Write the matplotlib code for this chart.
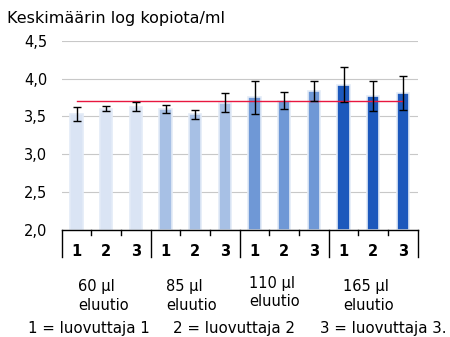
import matplotlib
matplotlib.use("Agg")
import matplotlib.pyplot as plt
import numpy as np

plt.rcParams['font.family'] = ['DejaVu Sans']

donors = ["1", "2", "3"] * 4
groups = ["60 µl\neluutio", "85 µl\neluutio", "110 µl\neluutio", "165 µl\neluutio"]
means = [3.53, 3.60, 3.63, 3.60, 3.53, 3.68, 3.75, 3.71, 3.835, 3.92, 3.77, 3.81]
errors = [0.093, 0.035, 0.065, 0.057, 0.06, 0.125, 0.22, 0.115, 0.128, 0.23, 0.2, 0.22]
reference_value = 3.70
group_colors = ["#dae4f4", "#a7c0e5", "#6f98d6", "#1c58bc"]
yticks = [2.0, 2.5, 3.0, 3.5, 4.0, 4.5]
ylabel = "Keskimäärin log kopiota/ml"
footer_parts = ["1 = luovuttaja 1", "2 = luovuttaja 2", "3 = luovuttaja 3."]

fig = plt.figure(figsize=(4.5, 3.37), dpi=100)
ax = fig.add_axes([61.7/450, 1 - 230/337, (417.7-61.7)/450, (230-40.7)/337])

x = np.arange(len(means))
colors = [group_colors[i // 3] for i in range(len(means))]
ax.bar(x, [m - 2.0 for m in means], bottom=2.0, width=0.42, color=colors,
       edgecolor="#e3ebf7", linewidth=1.2, zorder=2)
ax.plot([x[0], x[-1]], [reference_value, reference_value], color="#e8173f", lw=1.0, zorder=3)
ax.errorbar(x, means, yerr=errors, fmt="none", ecolor="black", elinewidth=1.0,
            capsize=2.6, capthick=1.0, zorder=4)

ax.set_xlim(-0.5, len(means) - 0.5)
ax.set_ylim(2.0, 4.5)
ax.set_yticks(yticks)
ax.set_yticklabels([f"{v:.1f}".replace(".", ",") for v in yticks], fontsize=10.5)
ax.yaxis.grid(True, color="#c8c8c8", lw=0.8, zorder=0)
ax.set_axisbelow(True)
ax.tick_params(axis="y", length=0, pad=10.5)
for s in ["top", "right", "left"]:
    ax.spines[s].set_visible(False)
ax.spines["bottom"].set_color("black")
ax.spines["bottom"].set_linewidth(1.0)

# x ticks: short at donor boundaries, long at group boundaries
ax.set_xticks([])
trans = ax.get_xaxis_transform()
for b in np.arange(-0.5, len(means), 1.0):
    long = (round(b + 0.5) % 3 == 0)
    ax.plot([b, b], [0, -0.14 if long else -0.027], transform=trans,
            color="black", lw=1.0, clip_on=False)
for xi, d in zip(x, donors):
    ax.text(xi, -0.115, d, transform=trans, ha="center", va="center",
            fontsize=10.5, fontweight="bold")
label_dx = [-0.09, -0.125, -0.33, -0.16]
label_y = [-0.35, -0.35, -0.33, -0.35]
for gi, g in enumerate(groups):
    ax.text(gi * 3 + 1 + label_dx[gi], label_y[gi], g, transform=trans,
            ha="center", va="center", multialignment="left",
            fontsize=10.5, linespacing=1.3)

fig.text(7/450, 1 - 18/337, ylabel, ha="left", va="center", fontsize=11.5)
for px, part in zip([28, 173, 320], footer_parts):
    fig.text(px/450, 1 - 328/337, part, ha="left", va="center", fontsize=10.8)

fig.savefig("out.png", dpi=100)
